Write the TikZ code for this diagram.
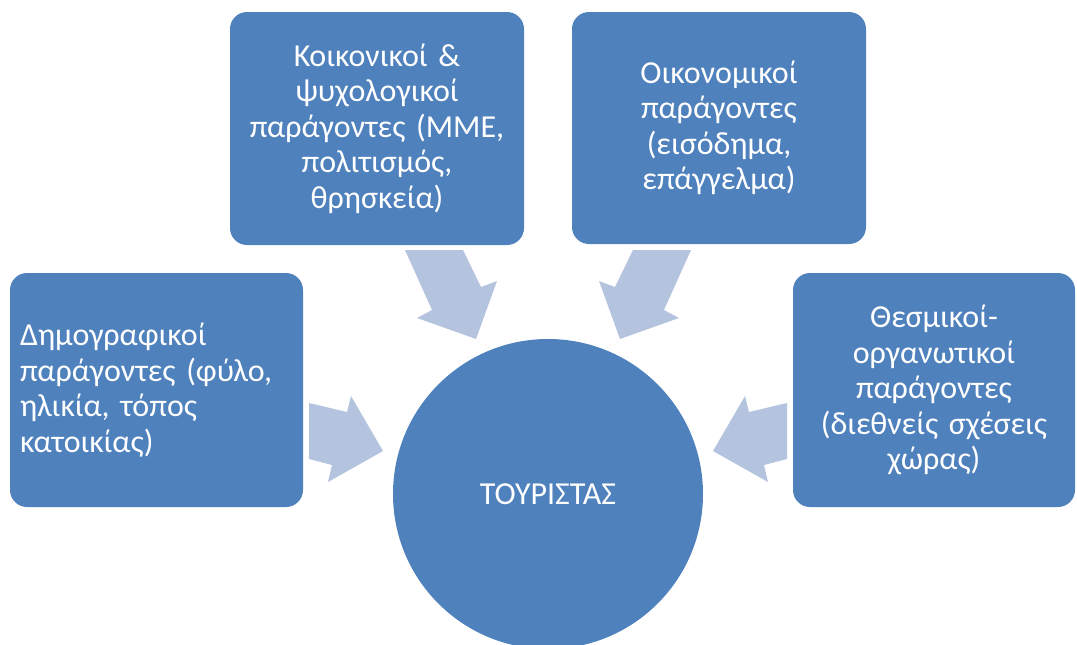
\documentclass[tikz,border=0pt]{standalone}
\usepackage{fontspec}
\setmainfont{Carlito}
\usepackage{tikz}

\definecolor{boxblue}{HTML}{4F81BD}
\definecolor{arrowblue}{HTML}{B4C3DE}

\tikzset{
    factor/.style={fill=boxblue, text=white, rounded corners=17pt, inner sep=10pt,
        font=\fontsize{32}{35.5}\selectfont},
    arrowfill/.style={fill=arrowblue}
}

\newcommand{\sidearrow}{(309,403) -- (347,412) -- (351,396) -- (383,451) -- (328,482) -- (332,465) -- (309,459) -- cycle}
\newcommand{\toparrow}{(405,250) -- (432,310) -- (417,318) -- (476,339) -- (497,281) -- (481,287) -- (463,250) -- cycle}

\begin{document}
\begin{tikzpicture}[x=1pt, y=-1pt]
    \useasboundingbox (0,0) rectangle (1077,645);
    % Factor boxes
    \node[factor, text width=273pt, minimum height=234pt, align=left] (demo) at (156.5,390)
        {Δημογραφικοί\\παράγοντες (φύλο,\\ηλικία, τόπος\\κατοικίας)};
    \node[factor, text width=274pt, minimum height=233pt, align=center] (social) at (377,128.5)
        {Κοικονικοί \&\\ψυχολογικοί\\παράγοντες (ΜΜΕ,\\πολιτισμός,\\θρησκεία)};
    \node[factor, text width=274pt, minimum height=232pt, align=center] (econ) at (719,128)
        {Οικονομικοί\\παράγοντες\\(εισόδημα,\\επάγγελμα)};
    \node[factor, text width=262pt, minimum height=234pt, align=center] (inst) at (934,390)
        {Θεσμικοί-\\οργανωτικοί\\παράγοντες\\(διεθνείς σχέσεις\\χώρας)};
    % Tourist
    \node[circle, fill=boxblue, text=white, minimum size=310pt, inner sep=0pt,
        font=\fontsize{32}{35.5}\selectfont] (tourist) at (548,494) {ΤΟΥΡΙΣΤΑΣ};
    % Block arrows
    \fill[arrowfill] \sidearrow;
    \fill[arrowfill, xshift=1096pt, xscale=-1] \sidearrow;
    \fill[arrowfill] \toparrow;
    \fill[arrowfill, xshift=1096pt, xscale=-1] \toparrow;
\end{tikzpicture}
\end{document}
